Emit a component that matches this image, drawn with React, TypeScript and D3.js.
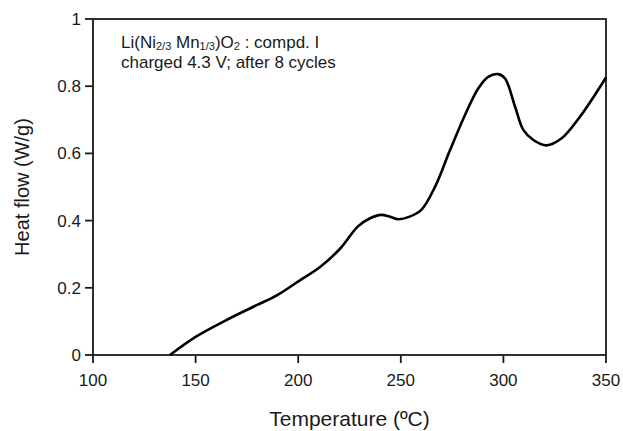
import React from "react";
import * as d3 from "d3";

const temps = [137.5, 150, 165, 180, 190, 201, 210.5, 220.5, 229, 235, 240.5, 244.5, 248.8, 254, 260, 266.7, 274, 282, 287.8, 292.6, 297.5, 300.8, 305.7, 309.7, 314.6, 321, 328.4, 337.3, 350];
const heatFlow = [0, 0.054, 0.104, 0.149, 0.179, 0.223, 0.261, 0.317, 0.382, 0.407, 0.417, 0.412, 0.404, 0.411, 0.432, 0.501, 0.61, 0.724, 0.794, 0.828, 0.836, 0.823, 0.739, 0.67, 0.64, 0.624, 0.645, 0.709, 0.826];
const xTicks = [100, 150, 200, 250, 300, 350];
const yTicks = [0, 0.2, 0.4, 0.6, 0.8, 1];

const W = 623, H = 431;
const M = { left: 93, top: 19, right: 17, bottom: 76 };
const FONT = "Arial, 'Liberation Sans', Helvetica, sans-serif";
const INK = "#1a1a1a";

export default function App() {
  const x = d3.scaleLinear().domain([100, 350]).range([M.left, W - M.right]);
  const y = d3.scaleLinear().domain([0, 1]).range([H - M.bottom, M.top]);
  const pts = temps.map((t, i) => [t, heatFlow[i]] as [number, number]);
  const line = d3.line<[number, number]>().x(d => x(d[0])).y(d => y(d[1])).curve(d3.curveCatmullRom.alpha(0.5));
  const fmtY = (v: number) => (v === 0 || v === 1 ? String(v) : v.toFixed(1));
  return (
    <svg width={W} height={H} style={{ position: "absolute", left: 0, top: 0, background: "#fff" }} fontFamily={FONT}>
      <rect x={M.left} y={M.top} width={W - M.left - M.right} height={H - M.top - M.bottom} fill="none" stroke={INK} strokeWidth={1.8} />
      {xTicks.map(t => (
        <g key={"x" + t}>
          <line x1={x(t)} x2={x(t)} y1={y(0)} y2={y(0) + 8} stroke={INK} strokeWidth={1.8} />
          <text x={x(t)} y={y(0) + 31} textAnchor="middle" fontSize={17} fill={INK}>{t}</text>
        </g>
      ))}
      {yTicks.map(v => (
        <g key={"y" + v}>
          <line x1={M.left - 8} x2={M.left} y1={y(v)} y2={y(v)} stroke={INK} strokeWidth={1.8} />
          <text x={M.left - 12} y={y(v)} dy="0.35em" textAnchor="end" fontSize={17} fill={INK}>{fmtY(v)}</text>
        </g>
      ))}
      <path d={line(pts) || ""} fill="none" stroke="#000" strokeWidth={2.6} strokeLinejoin="round" />
      <text x={(M.left + W - M.right) / 2} y={426} textAnchor="middle" fontSize={21} fill={INK}>Temperature (ºC)</text>
      <text transform={`translate(29, ${(M.top + H - M.bottom) / 2}) rotate(-90)`} textAnchor="middle" fontSize={20} fill={INK}>Heat flow (W/g)</text>
      <text x={121} y={48} fontSize={17} fill={INK}>
        Li(Ni<tspan fontSize={11} dy={2}>2/3</tspan><tspan dy={-2}> Mn</tspan><tspan fontSize={11} dy={2}>1/3</tspan><tspan dy={-2}>)O</tspan><tspan fontSize={11} dy={2}>2</tspan><tspan dy={-2}> : compd. I</tspan>
      </text>
      <text x={121} y={68} fontSize={17} fill={INK}>charged 4.3 V; after 8 cycles</text>
    </svg>
  );
}
